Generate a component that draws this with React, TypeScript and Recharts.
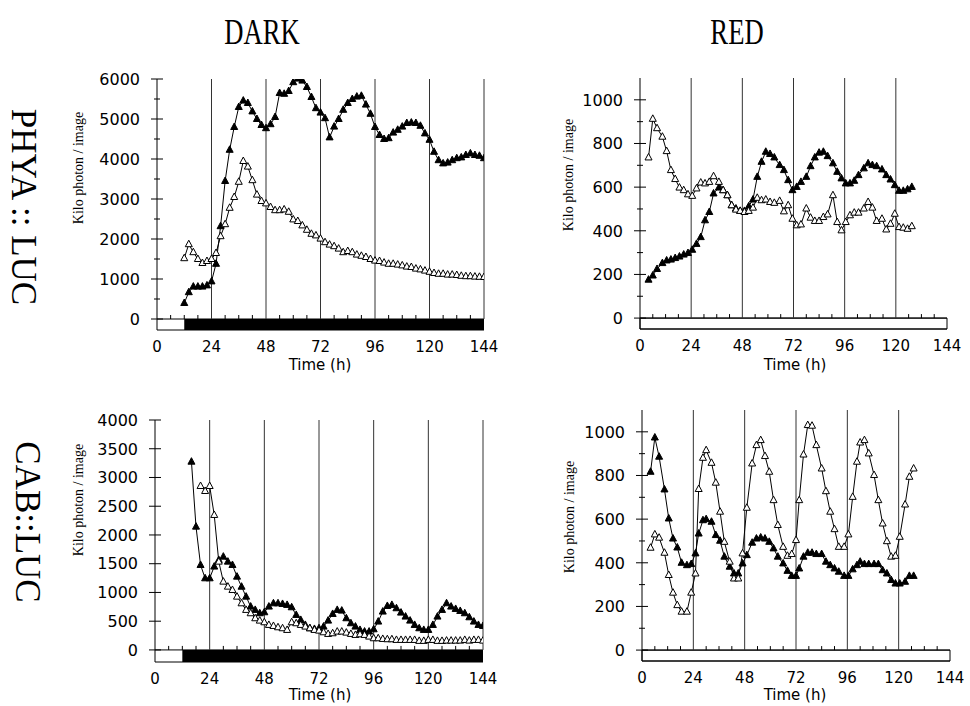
import React from 'react';
import { LineChart, Line, XAxis, YAxis, ReferenceLine, ReferenceArea } from 'recharts';

// PHYA::LUC in darkness (hours after transfer, kilo photons per image)
const phyaDarkHours = [12, 14, 16, 18, 20, 22, 24, 26, 28, 30, 32, 34, 36, 38, 40, 42, 44, 46, 48, 50, 52, 54, 56, 58, 60, 62, 64, 66, 68, 70, 72, 74, 76, 78, 80, 82, 84, 86, 88, 90, 92, 94, 96, 98, 100, 102, 104, 106, 108, 110, 112, 114, 116, 118, 120, 122, 124, 126, 128, 130, 132, 134, 136, 138, 140, 142, 144];
const phyaDarkFilled = [400, 670, 810, 810, 810, 840, 940, 1380, 2320, 3450, 4230, 4800, 5300, 5460, 5400, 5190, 5000, 4850, 4770, 4870, 5050, 5650, 5630, 5700, 5920, 6010, 5960, 5800, 5550, 5270, 5160, 5020, 4540, 4810, 5000, 5230, 5400, 5500, 5560, 5580, 5360, 5130, 4800, 4600, 4500, 4520, 4660, 4730, 4810, 4900, 4910, 4900, 4830, 4640, 4480, 4180, 3970, 3890, 3910, 3970, 4020, 4040, 4100, 4140, 4100, 4080, 4020];
const phyaDarkOpen = [1520, 1870, 1670, 1500, 1400, 1450, 1500, 1650, 2070, 2370, 2780, 3050, 3430, 3950, 3810, 3470, 3110, 2950, 2890, 2800, 2720, 2720, 2740, 2680, 2490, 2450, 2340, 2230, 2130, 2090, 2010, 1920, 1860, 1820, 1760, 1670, 1700, 1670, 1610, 1580, 1550, 1500, 1460, 1450, 1410, 1380, 1380, 1360, 1340, 1310, 1300, 1260, 1240, 1210, 1180, 1150, 1130, 1130, 1110, 1110, 1100, 1080, 1070, 1070, 1060, 1055, 1050];

// PHYA::LUC in red light
const phyaRedHours = [4, 6, 8, 10.5, 12.5, 14.5, 16.5, 18.5, 20.5, 22.5, 24.5, 26.5, 28.5, 30.5, 32.5, 34.5, 37, 39, 41, 43, 45, 47, 49, 51, 53, 55, 57, 59, 61, 63, 65.5, 67.5, 69.5, 71.5, 73.5, 75.5, 78, 80, 82, 84, 86, 88, 90.5, 92.5, 94.5, 96.5, 98.5, 100.5, 102.5, 105, 107, 109, 111, 113.5, 115.5, 117.5, 119.5, 121.5, 123.5, 125.5, 127.5];
const phyaRedFilled = [176, 195, 225, 252, 264, 268, 275, 282, 291, 298, 313, 340, 371, 448, 486, 571, 598, 586, 563, 517, 502, 491, 491, 512, 543, 647, 716, 762, 752, 736, 701, 678, 632, 586, 601, 624, 647, 696, 736, 758, 762, 742, 709, 670, 640, 617, 617, 629, 655, 686, 709, 701, 696, 681, 655, 635, 609, 583, 583, 590, 601];
const phyaRedOpen = [736, 913, 870, 831, 765, 678, 637, 598, 586, 567, 560, 594, 621, 617, 624, 650, 624, 586, 563, 517, 497, 491, 486, 491, 506, 551, 540, 543, 532, 528, 537, 489, 517, 455, 425, 429, 502, 460, 445, 445, 463, 475, 563, 440, 402, 440, 471, 483, 483, 502, 532, 506, 445, 455, 406, 432, 478, 417, 414, 409, 421];

// CAB::LUC in darkness
const cabDarkHours = [16, 18, 20, 22, 24, 26, 28, 30, 32, 34, 36, 38, 40, 42, 44, 46, 48, 50, 52, 54, 56, 58, 60, 62, 64, 66, 68, 70, 72, 74, 76, 78, 80, 82, 84, 86, 88, 90, 92, 94, 96, 98, 100, 102, 104, 106, 108, 110, 112, 114, 116, 118, 120, 122, 124, 126, 128, 130, 132, 134, 136, 138, 140, 142, 144];
const cabDarkFilled = [3275, 2145, 1478, 1246, 1246, 1450, 1565, 1623, 1536, 1478, 1275, 1100, 927, 754, 696, 638, 655, 754, 811, 811, 800, 783, 742, 609, 522, 435, 377, 365, 377, 406, 510, 626, 696, 684, 551, 464, 406, 348, 319, 319, 359, 493, 667, 765, 783, 725, 649, 580, 510, 435, 377, 348, 348, 435, 580, 696, 812, 754, 713, 678, 638, 568, 493, 435, 417];
const cabDarkOpen = [null, null, 2852, 2765, 2852, 2348, 1536, 1188, 1101, 1043, 927, 811, 696, 638, 551, 510, 481, 435, 417, 394, 377, 348, 481, 464, 435, 406, 377, 348, 336, 307, 278, 290, 319, 319, 301, 278, 261, 272, 261, 232, 203, 203, 191, 186, 186, 174, 174, 174, 174, 174, 157, 157, 174, 174, 157, 157, 162, 162, 162, 162, 174, 162, 174, 174, 162];

// CAB::LUC in red light
const cabRedHours = [4, 6, 8, 10.5, 12.5, 14.5, 16.5, 18.5, 21, 23, 25, 26.5, 28.5, 30, 32.5, 34.5, 36.5, 38.5, 41, 43, 45, 47, 49, 51.5, 53.5, 55.5, 57.5, 59.5, 61.5, 63.5, 66, 68, 70, 72, 73.5, 75.5, 77.5, 79.5, 81.5, 84, 86, 88, 90, 92, 94.5, 96.5, 98.5, 100.5, 102, 104, 106, 108.5, 110.5, 112.5, 114.5, 116.5, 118.5, 120.5, 123, 125, 127];
const cabRedFilled = [817, 974, 886, 736, 603, 511, 470, 400, 389, 394, 443, 534, 595, 600, 588, 527, 501, 428, 382, 351, 351, 397, 435, 492, 511, 516, 511, 496, 466, 428, 397, 363, 340, 340, 374, 428, 446, 446, 440, 440, 405, 389, 374, 359, 340, 340, 370, 389, 405, 394, 394, 394, 394, 366, 351, 321, 305, 305, 313, 340, 340];
const cabRedOpen = [469, 530, 515, 446, 344, 263, 206, 176, 176, 263, 351, 738, 881, 916, 858, 767, 634, 496, 405, 328, 328, 443, 652, 855, 939, 962, 889, 817, 687, 573, 473, 432, 440, 504, 687, 896, 1031, 1028, 939, 832, 728, 634, 554, 473, 473, 530, 702, 863, 951, 962, 901, 802, 687, 580, 499, 428, 432, 519, 667, 794, 832];

const xTicks = [0, 24, 48, 72, 96, 120, 144];
const minorHours = [6, 12, 18, 30, 36, 42, 54, 60, 66, 78, 84, 90, 102, 108, 114, 126, 132, 138];
const darkDayLines = [24, 48, 72, 96, 120, 144];
const redDayLines = [24, 48, 72, 96, 120];
const yTicksPhyaDark = [0, 500, 1000, 1500, 2000, 2500, 3000, 3500, 4000, 4500, 5000, 5500, 6000];
const yTicksRed = [0, 100, 200, 300, 400, 500, 600, 700, 800, 900, 1000];
const yTicksCabDark = [0, 500, 1000, 1500, 2000, 2500, 3000, 3500, 4000];

const YW = 70;
const MT = 10;
const MR = 25;
const XH = 45;
const SANS = 'DejaVu Sans, sans-serif';
const SERIF = 'Liberation Serif, Times New Roman, serif';

const triangle = (fill: string) => (p: any) => {
  const { cx, cy, index } = p;
  if (cx == null || cy == null || p.value == null) return <g key={`t-${index}`} />;
  return (
    <polygon
      key={`t-${index}`}
      points={`${cx},${cy - 4} ${cx - 3.5},${cy + 2.5} ${cx + 3.5},${cy + 2.5}`}
      fill={fill}
      stroke="#000"
      strokeWidth={1}
    />
  );
};

const YTick = (props: any) => {
  const { x, y, payload, labelStep } = props;
  const ax = x + 17;
  const major = payload.value % labelStep === 0;
  const len = major ? 6 : 3;
  return (
    <g>
      <line x1={ax - len} x2={ax + len} y1={y} y2={y} stroke="#000" strokeWidth={1} />
      {major && (
        <text x={x} y={y} dy="0.36em" textAnchor="end" fontSize={16} fontFamily={SANS} fill="#000">
          {payload.value}
        </text>
      )}
    </g>
  );
};

interface PanelProps {
  left: number;
  top: number;
  plotW: number;
  plotH: number;
  hours: number[];
  filled: (number | null)[];
  open: (number | null)[];
  yMin: number;
  yMax: number;
  yTicks: number[];
  labelStep: number;
  dark: boolean;
  dayLines: number[];
}

const Panel = ({ left, top, plotW, plotH, hours, filled, open, yMin, yMax, yTicks, labelStep, dark, dayLines }: PanelProps) => {
  const rows = hours.map((t, i) => ({ t, filled: filled[i], open: open[i] }));
  const tickLen = (4 * (yMax - yMin)) / plotH;
  return (
    <div style={{ position: 'absolute', left: left - YW, top: top - MT }}>
      <LineChart
        width={YW + plotW + MR}
        height={MT + plotH + XH}
        data={rows}
        margin={{ top: MT, right: MR, left: 0, bottom: 0 }}
      >
        <XAxis
          dataKey="t"
          type="number"
          domain={[0, 144]}
          ticks={xTicks}
          interval={0}
          allowDataOverflow
          tickLine={false}
          tickSize={0}
          tickMargin={11}
          height={XH}
          axisLine={{ stroke: '#000' }}
          tick={{ fontSize: 15, fill: '#000', fontFamily: SANS }}
        />
        <YAxis
          type="number"
          domain={[yMin, yMax]}
          ticks={yTicks}
          interval={0}
          allowDataOverflow
          width={YW}
          tickLine={false}
          tickSize={0}
          tickMargin={17}
          axisLine={{ stroke: '#000' }}
          tick={(p: any) => <YTick {...p} labelStep={labelStep} />}
        />
        {dark ? (
          <ReferenceArea x1={12} x2={144} y1={yMin} y2={0} fill="#000" fillOpacity={1} stroke="none" />
        ) : (
          <ReferenceArea x1={0} x2={144} y1={yMin} y2={0} fill="#fff" fillOpacity={1} stroke="#000" />
        )}
        <ReferenceLine y={0} stroke="#000" />
        {dayLines.map((h) => (
          <ReferenceLine key={`d-${h}`} segment={[{ x: h, y: 0 }, { x: h, y: yMax }]} stroke="#333" />
        ))}
        {minorHours.map((h) => (
          <ReferenceLine key={`m-${h}`} segment={[{ x: h, y: 0 }, { x: h, y: tickLen }]} stroke="#000" />
        ))}
        <Line
          dataKey="filled"
          stroke="#000"
          strokeWidth={1}
          dot={triangle('#000')}
          isAnimationActive={false}
        />
        <Line
          dataKey="open"
          stroke="#000"
          strokeWidth={1}
          dot={triangle('#fff')}
          isAnimationActive={false}
        />
      </LineChart>
    </div>
  );
};

const App = () => (
  <div style={{ position: 'absolute', left: 0, top: 0, width: 970, height: 706, background: '#fff', overflow: 'hidden' }}>
    <Panel left={157} top={79} plotW={327} plotH={251} hours={phyaDarkHours} filled={phyaDarkFilled} open={phyaDarkOpen}
      yMin={-275} yMax={6000} yTicks={yTicksPhyaDark} labelStep={1000} dark dayLines={darkDayLines} />
    <Panel left={640} top={78} plotW={307} plotH={251} hours={phyaRedHours} filled={phyaRedFilled} open={phyaRedOpen}
      yMin={-50} yMax={1100} yTicks={yTicksRed} labelStep={200} dark={false} dayLines={redDayLines} />
    <Panel left={155} top={420} plotW={328} plotH={242} hours={cabDarkHours} filled={cabDarkFilled} open={cabDarkOpen}
      yMin={-210} yMax={4000} yTicks={yTicksCabDark} labelStep={500} dark dayLines={darkDayLines} />
    <Panel left={642} top={410} plotW={308} plotH={251} hours={cabRedHours} filled={cabRedFilled} open={cabRedOpen}
      yMin={-50} yMax={1100} yTicks={yTicksRed} labelStep={200} dark={false} dayLines={redDayLines} />
    <svg width={970} height={706} style={{ position: 'absolute', left: 0, top: 0, pointerEvents: 'none' }}>
      <text transform="translate(262,44) scale(0.74,1)" textAnchor="middle" fontSize={36} fontFamily={SERIF}>DARK</text>
      <text transform="translate(737,44) scale(0.74,1)" textAnchor="middle" fontSize={36} fontFamily={SERIF}>RED</text>
      <text transform="translate(23,207) rotate(90)" textAnchor="middle" dominantBaseline="central" fontSize={35} fontFamily={SERIF}>PHYA :: LUC</text>
      <text transform="translate(27,522) rotate(90)" textAnchor="middle" dominantBaseline="central" fontSize={35} fontFamily={SERIF}>CAB::LUC</text>
      <text transform="translate(78,168) rotate(-90)" textAnchor="middle" dominantBaseline="central" fontSize={14} fontFamily={SERIF}>Kilo photon / image</text>
      <text transform="translate(568,175) rotate(-90)" textAnchor="middle" dominantBaseline="central" fontSize={14} fontFamily={SERIF}>Kilo photon / image</text>
      <text transform="translate(78,500) rotate(-90)" textAnchor="middle" dominantBaseline="central" fontSize={14} fontFamily={SERIF}>Kilo photon / image</text>
      <text transform="translate(569,517) rotate(-90)" textAnchor="middle" dominantBaseline="central" fontSize={14} fontFamily={SERIF}>Kilo photon / image</text>
      <text x={320} y={370} textAnchor="middle" fontSize={15} fontFamily={SANS}>Time (h)</text>
      <text x={795} y={370} textAnchor="middle" fontSize={15} fontFamily={SANS}>Time (h)</text>
      <text x={320} y={700} textAnchor="middle" fontSize={15} fontFamily={SANS}>Time (h)</text>
      <text x={795} y={700} textAnchor="middle" fontSize={15} fontFamily={SANS}>Time (h)</text>
    </svg>
  </div>
);

export default App;
